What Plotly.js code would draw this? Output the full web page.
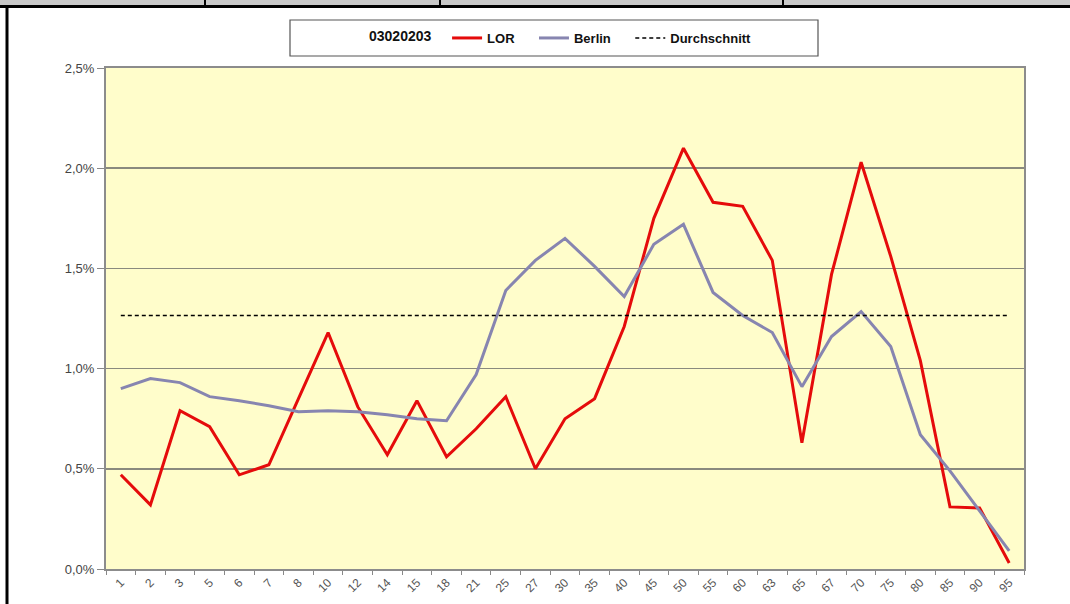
<!DOCTYPE html>
<html>
<head>
<meta charset="utf-8">
<script src="https://cdn.plot.ly/plotly-3.0.1.min.js"></script>
<style>
html,body{margin:0;padding:0;background:#fff;}
#chart{width:1070px;height:604px;}
</style>
</head>
<body>
<div id="chart"></div>
<script>
const categories = ['1','2','3','5','6','7','8','10','12','14','15','18','21','25','27','30','35','40','45','50','55','60','63','65','67','70','75','80','85','90','95'];
const lorValues = [0.47,0.32,0.79,0.71,0.47,0.52,0.85,1.18,0.81,0.57,0.84,0.56,0.70,0.86,0.50,0.75,0.85,1.21,1.75,2.10,1.83,1.81,1.54,0.63,1.47,2.03,1.56,1.04,0.31,0.305,0.03];
const berlinValues = [0.90,0.95,0.93,0.86,0.84,0.815,0.785,0.79,0.785,0.77,0.75,0.74,0.97,1.39,1.54,1.65,1.51,1.36,1.62,1.72,1.38,1.265,1.18,0.91,1.16,1.285,1.11,0.67,0.49,0.29,0.09];
const durchschnitt = 1.265;
const legendTitle = '03020203';
const seriesNames = ['LOR', 'Berlin', 'Durchschnitt'];
const yTickVals = [0, 0.5, 1.0, 1.5, 2.0, 2.5];
const yTickText = ['0,0%', '0,5%', '1,0%', '1,5%', '2,0%', '2,5%'];

const W = 1070, H = 604;
const L = 106, R = 1024, T = 68, B = 569;
const pw = R - L, ph = B - T;
const px = x => (x - L) / pw;
const py = y => (B - y) / ph;

const font = 'Liberation Sans, Arial, sans-serif';
const NB = '\u00a0';
const pad = (s, n) => s + NB.repeat(n);

const traces = [
  {x: categories, y: lorValues, name: pad(seriesNames[0], 4), type: 'scatter', mode: 'lines',
   line: {color: '#E50B0B', width: 3}},
  {x: categories, y: berlinValues, name: pad(seriesNames[1], 4), type: 'scatter', mode: 'lines',
   line: {color: '#8785B0', width: 3}},
  {x: [categories[0], categories[categories.length - 1]], y: [durchschnitt, durchschnitt],
   name: seriesNames[2], type: 'scatter', mode: 'lines',
   line: {color: '#000000', width: 1.5, dash: '4px,3px'}}
];

const layout = {
  width: W, height: H,
  margin: {l: L, r: W - R, t: T, b: H - B, pad: 0},
  paper_bgcolor: '#ffffff',
  plot_bgcolor: '#FFFDCB',
  showlegend: true,
  legend: {
    orientation: 'h', x: px(367), xanchor: 'left', y: py(38), yanchor: 'middle',
    bgcolor: 'rgba(0,0,0,0)', borderwidth: 0,
    font: {family: font, size: 13, color: '#111', weight: 700},
    title: {text: pad(legendTitle, 2), side: 'left', font: {family: font, size: 14, color: '#111', weight: 700}},
    itemwidth: 30
  },
  xaxis: {
    type: 'category', range: [-0.5, categories.length - 0.5],
    tickson: 'boundaries', ticks: 'outside', ticklen: 4, tickcolor: '#888', tickwidth: 1,
    showgrid: false, showline: true, linecolor: '#8c8c8c', linewidth: 2, mirror: true,
    tickangle: -45, tickfont: {family: font, size: 12, color: '#555'}, zeroline: false,
    fixedrange: true
  },
  yaxis: {
    range: [0, 2.5], tickmode: 'array', tickvals: yTickVals, ticktext: yTickText,
    ticks: 'outside', ticklen: 7, tickcolor: '#888',
    showgrid: true, gridcolor: '#8a8a7e', gridwidth: 1.5,
    showline: true, linecolor: '#8c8c8c', linewidth: 2, mirror: true, zeroline: false,
    tickfont: {family: font, size: 13, color: '#444'}, fixedrange: true
  },
  shapes: [
    {type: 'rect', xref: 'paper', yref: 'paper', x0: px(0), x1: px(W), y0: py(6), y1: py(0),
     fillcolor: '#C8C8C8', line: {width: 0}, layer: 'above'},
    {type: 'line', xref: 'paper', yref: 'paper', x0: px(0), x1: px(W), y0: py(6.5), y1: py(6.5),
     line: {color: '#000', width: 3}, layer: 'above'},
    {type: 'line', xref: 'paper', yref: 'paper', x0: px(205), x1: px(205), y0: py(0), y1: py(6),
     line: {color: '#000', width: 2}, layer: 'above'},
    {type: 'line', xref: 'paper', yref: 'paper', x0: px(440), x1: px(440), y0: py(0), y1: py(6),
     line: {color: '#000', width: 2}, layer: 'above'},
    {type: 'line', xref: 'paper', yref: 'paper', x0: px(783), x1: px(783), y0: py(0), y1: py(6),
     line: {color: '#000', width: 2}, layer: 'above'},
    {type: 'line', xref: 'paper', yref: 'paper', x0: px(7), x1: px(7), y0: py(6), y1: py(H),
     line: {color: '#000', width: 3}, layer: 'above'},
    {type: 'rect', xref: 'paper', yref: 'paper', x0: px(290), x1: px(818), y0: py(56), y1: py(20),
     fillcolor: 'rgba(0,0,0,0)', line: {color: '#555', width: 1.2}, layer: 'above'}
  ]
};

Plotly.newPlot('chart', traces, layout, {displayModeBar: false, staticPlot: true});
</script>
</body>
</html>
